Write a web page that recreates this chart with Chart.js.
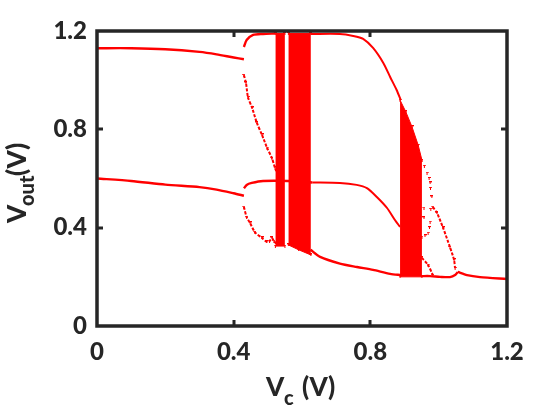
<!DOCTYPE html>
<html><head><meta charset="utf-8">
<style>html,body{margin:0;padding:0;background:#fff}#w{width:560px;height:420px}</style>
<script src="https://cdn.jsdelivr.net/npm/chart.js@4"></script></head>
<body><div id="w"><canvas id="c" width="560" height="420"></canvas></div>
<script>
const xTicks=[0,0.4,0.8,1.2];
const yTicks=[0,0.4,0.8,1.2];
const highStart=[[0,1.13],[0.1,1.13],[0.2,1.126],[0.3,1.115],[0.35,1.105],[0.4,1.092],[0.43,1.085]];
const lowStart=[[0,0.6],[0.1,0.59],[0.2,0.575],[0.3,0.565],[0.35,0.555],[0.4,0.54],[0.43,0.53]];
const splitTop=[[0.43,1.135],[0.438,1.163],[0.457,1.184],[0.486,1.188],[0.521,1.19]];
const splitFall=[[0.43,1.02],[0.436,0.989],[0.442,0.93],[0.454,0.887],[0.468,0.826],[0.483,0.777],[0.498,0.724],[0.512,0.683],[0.521,0.643],[0.536,0.594]];
const lowTop=[[0.43,0.56],[0.438,0.574],[0.453,0.582],[0.486,0.59],[0.56,0.59],[0.63,0.584]];
const lowFall=[[0.43,0.484],[0.438,0.443],[0.448,0.419],[0.462,0.382],[0.483,0.358],[0.497,0.342],[0.505,0.345],[0.512,0.358],[0.518,0.345],[0.525,0.335]];
const upperRun=[[0.626,1.188],[0.711,1.188],[0.75,1.18],[0.779,1.168],[0.808,1.131],[0.838,1.07],[0.858,1.013],[0.877,0.96],[0.889,0.919]];
const middleRun=[[0.63,0.584],[0.711,0.582],[0.76,0.574],[0.79,0.561],[0.819,0.525],[0.849,0.48],[0.872,0.431],[0.887,0.403]];
const lowerRun=[[0.625,0.31],[0.653,0.281],[0.711,0.254],[0.761,0.24],[0.808,0.228],[0.858,0.212],[0.89,0.207]];
const rightUpper=[[0.951,0.675],[0.958,0.65],[0.966,0.622],[0.972,0.6],[0.975,0.582],[0.976,0.56],[0.98,0.525]];
const rightHook=[[0.951,0.362],[0.96,0.367],[0.969,0.378],[0.973,0.4],[0.975,0.423],[0.957,0.44],[0.957,0.48],[0.977,0.475]];
const rightFall=[[0.983,0.484],[0.995,0.46],[1.013,0.399],[1.033,0.321],[1.045,0.269],[1.048,0.235]];
const rightFloor=[[0.95,0.203],[0.975,0.203],[1.004,0.2],[1.033,0.199],[1.048,0.207],[1.056,0.22]];
const smallLoop=[[0.951,0.277],[0.969,0.248],[0.983,0.207]];
const tailRun=[[1.056,0.22],[1.083,0.207],[1.121,0.199],[1.2,0.191]];
const band1Top=[[0.522,1.19],[0.55,1.19]];
const band1Bottom=[[0.522,0.325],[0.55,0.325]];
const band2Top=[[0.56,1.19],[0.626,1.19]];
const band2Bottom=[[0.56,0.33],[0.59,0.31],[0.626,0.289]];
const band3Top=[[0.887,0.919],[0.904,0.871],[0.922,0.81],[0.94,0.736],[0.951,0.675]];
const band3Bottom=[[0.887,0.2],[0.951,0.2]];

const red='#ff0000', ink='#262626', face='Lato, "Open Sans", sans-serif';
const tee=document.createElement('canvas');tee.width=3;tee.height=3;
{const g=tee.getContext('2d');g.fillStyle=red;g.fillRect(0,0,3,1);g.fillRect(1,0,1,3);}
const pts=a=>a.map(p=>({x:p[0],y:p[1]}));
const solid=(a,w)=>({data:pts(a),showLine:true,borderColor:red,borderWidth:w||2.4,pointRadius:0,tension:0.25,fill:false});
const chain=a=>({data:pts(a),showLine:true,borderColor:red,borderWidth:2,borderDash:[3,1.5],pointStyle:tee,pointRadius:2,tension:0.25,fill:false});
const sparse=a=>({data:pts(a),showLine:false,pointStyle:tee,pointRadius:2,fill:false});
const band=(a,fill)=>({data:pts(a),showLine:true,borderColor:red,borderWidth:1,pointStyle:tee,pointRadius:2,backgroundColor:red,fill:fill});

const frame={id:'frame',afterDatasetsDraw(ch){
  const g=ch.ctx,a=ch.chartArea,X=ch.scales.x,Y=ch.scales.y;
  g.save();g.fillStyle=ink;
  xTicks.slice(1,3).forEach(v=>{const p=Math.round(X.getPixelForValue(v));g.fillRect(p-1.5,a.bottom-6,3,6);g.fillRect(p-1.5,a.top,3,6);});
  yTicks.slice(1,3).forEach(v=>{const p=Math.round(Y.getPixelForValue(v));g.fillRect(a.left,p-1.5,6,3);g.fillRect(a.right-6,p-1.5,6,3);});
  g.strokeStyle=ink;g.lineWidth=3.5;g.strokeRect(a.left,a.top,a.right-a.left,a.bottom-a.top);
  g.textBaseline='alphabetic';g.textAlign='left';
  g.font='900 26px '+face;g.fillText('V',266,396);
  g.font='900 20px '+face;g.fillText('c',284,405);
  g.font='900 26px '+face;g.fillText('(V)',302,396);
  g.translate(26,223);g.rotate(-Math.PI/2);
  g.font='900 26px '+face;g.fillText('V',0,0);
  g.font='900 20px '+face;g.fillText('out',17,8);
  g.font='900 26px '+face;g.fillText('(V)',47,0);
  g.restore();
}};
new Chart(document.getElementById('c'),{
  type:'scatter',
  data:{datasets:[
    band(band1Top,'+1'),band(band1Bottom,false),
    band(band2Top,'+1'),band(band2Bottom,false),
    band(band3Top,'+1'),band(band3Bottom,false),
    solid(highStart),solid(lowStart),solid(splitTop),chain(splitFall),solid(lowTop),chain(lowFall),
    solid(upperRun,2),solid(middleRun,2),solid(lowerRun),
    sparse(rightUpper),sparse(rightHook),chain(rightFall),solid(rightFloor),chain(smallLoop),solid(tailRun)
  ]},
  options:{
    responsive:false,animation:false,
    layout:{padding:{top:31,right:53,left:0,bottom:0}},
    plugins:{legend:{display:false},tooltip:{enabled:false},title:{display:false}},
    scales:{
      x:{type:'linear',min:0,max:1.2,
        afterFit(s){s.height=94;},
        afterBuildTicks(s){s.ticks=xTicks.map(v=>({value:v}));},
        grid:{display:false},border:{display:false},
        ticks:{color:ink,font:{family:face,weight:'900',size:24},padding:4,maxRotation:0,autoSkip:false,callback:v=>String(v)}},
      y:{type:'linear',min:0,max:1.2,
        afterFit(s){s.width=97;},
        afterBuildTicks(s){s.ticks=yTicks.map(v=>({value:v}));},
        grid:{display:false},border:{display:false},
        ticks:{color:ink,font:{family:face,weight:'900',size:24},padding:2,autoSkip:false,callback:v=>String(v)}}
    }
  },
  plugins:[frame]
});
</script></body></html>
